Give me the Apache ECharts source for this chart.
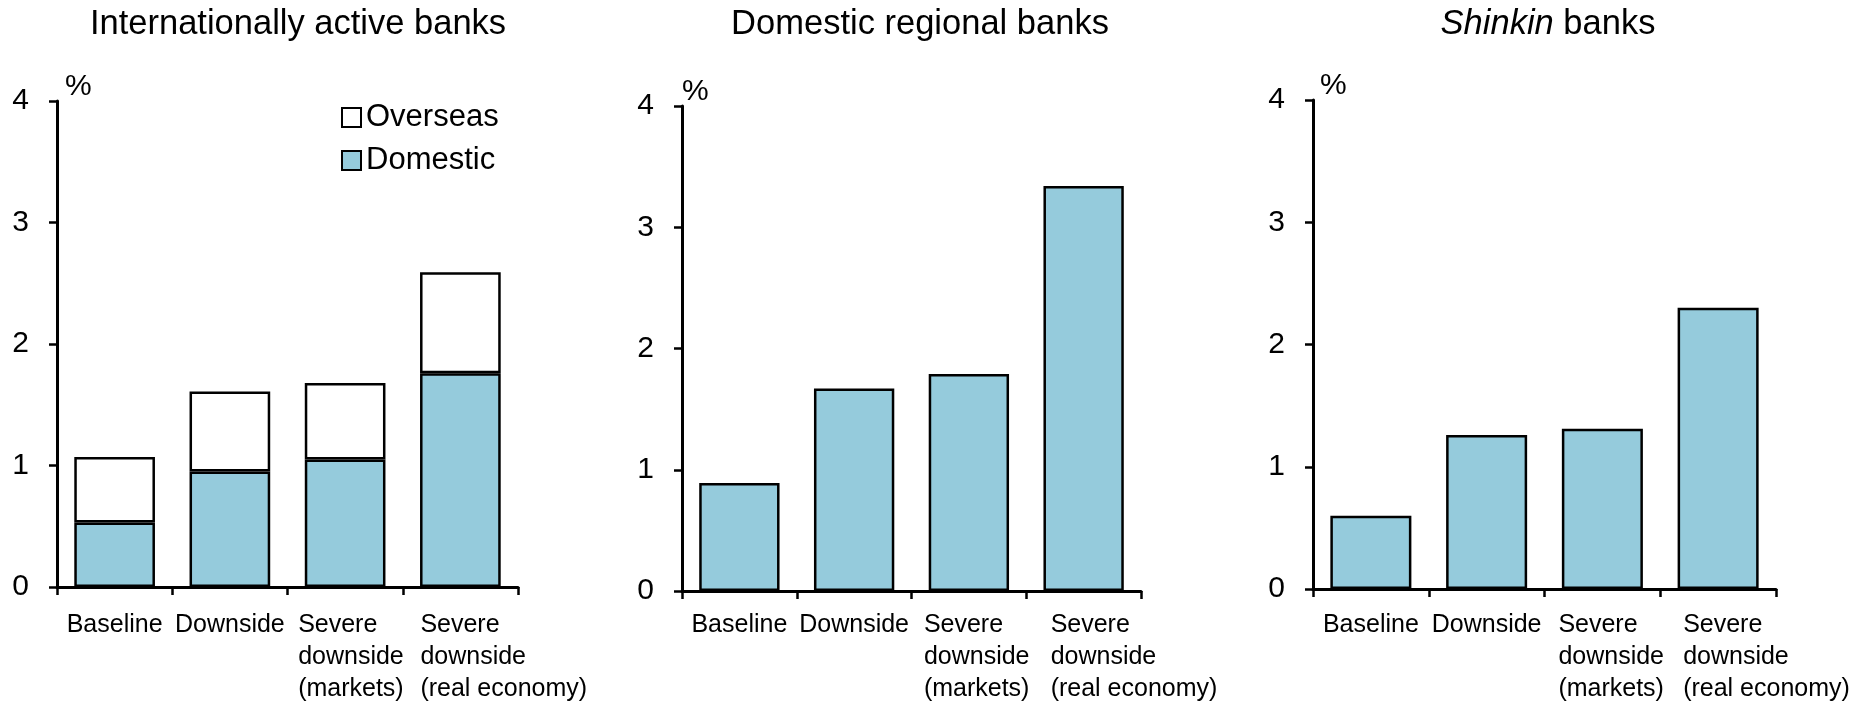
<!DOCTYPE html>
<html>
<head>
<meta charset="utf-8">
<script src="https://cdn.jsdelivr.net/npm/echarts@6/dist/echarts.min.js"></script>
<style>
html,body{margin:0;padding:0;background:#fff;}
#chart{width:1872px;height:704px;}
</style>
</head>
<body>
<div id="chart"></div>
<script>
// ---- data ----
const categories = ['Baseline', 'Downside', 'Severe\ndownside\n(markets)', 'Severe\ndownside\n(real economy)'];
const panelTitles = ['Internationally active banks', 'Domestic regional banks', '{i|Shinkin} banks'];
const intlDomestic = [0.53, 0.95, 1.05, 1.76];
const intlOverseas = [0.54, 0.66, 0.63, 0.83];
const regionalTotal = [0.89, 1.67, 1.79, 3.34];
const shinkinTotal = [0.60, 1.26, 1.31, 2.30];
const yMin = 0, yMax = 4, yStep = 1;
const yUnit = '%';

// ---- styles / layout ----
const FONT = '"Liberation Sans", Arial, sans-serif';
const BLUE = '#95cbdc';
const LABEL_FS = 25;
const LABEL_LH = 32;
const TITLE_FS = 34.5;
const grids = [
  {left: 57, top: 101, width: 461, height: 486},
  {left: 682, top: 106, width: 459, height: 485},
  {left: 1313, top: 100, width: 463, height: 489}
];
const labelMargin = [22, 18, 20];
const titleX = [298, 920, 1548];
const pctPad = [8, 0, 7];
// left offset of multi-line label block from category center (null = centered)
const labelShift = [
  [null, null, 47, 40],
  [null, null, 45, 33],
  [null, null, 44, 35]
];

const ctx = document.createElement('canvas').getContext('2d');
ctx.font = LABEL_FS + 'px ' + FONT;
function catData(shifts) {
  return categories.map((c, i) => {
    const d = shifts[i];
    if (d == null) return c;
    const T = Math.max(...c.split('\n').map(s => ctx.measureText(s).width));
    const diff = T - 2 * d;
    const pad = diff >= 0 ? [0, 0, 0, diff] : [0, -diff, 0, 0];
    return {value: c, textStyle: {padding: pad}};
  });
}

const xAxes = grids.map((g, k) => ({
  type: 'category', gridIndex: k, data: catData(labelShift[k]),
  boundaryGap: true,
  axisLine: {lineStyle: {color: '#000', width: 3}},
  axisTick: {show: true, length: 8, lineStyle: {color: '#000', width: 2.5}},
  axisLabel: {
    interval: 0, margin: labelMargin[k], color: '#000', fontFamily: FONT, fontSize: LABEL_FS,
    lineHeight: LABEL_LH, hideOverlap: false,
    formatter: v => v.split('\n').map(s => '{t|' + s + '}').join('\n'),
    rich: {t: {align: 'left', fontSize: LABEL_FS, fontFamily: FONT, lineHeight: LABEL_LH, color: '#000'}}
  },
  splitLine: {show: false}
}));

const yAxes = grids.map((g, k) => ({
  type: 'value', gridIndex: k, min: yMin, max: yMax, interval: yStep,
  name: yUnit, nameLocation: 'end', nameGap: -1,
  nameTextStyle: {fontSize: 30, fontFamily: FONT, color: '#000', align: 'left', verticalAlign: 'bottom', padding: [0, 0, 0, pctPad[k]]},
  axisLine: {show: true, lineStyle: {color: '#000', width: 3}},
  axisTick: {show: true, length: 8, lineStyle: {color: '#000', width: 2.5}},
  axisLabel: {margin: 28, color: '#000', fontFamily: FONT, fontSize: 30},
  splitLine: {show: false}
}));

const border = {borderColor: '#000', borderWidth: 2.5};
const series = [
  {name: 'Domestic', type: 'bar', stack: 'intl', xAxisIndex: 0, yAxisIndex: 0, barWidth: '70%',
   data: intlDomestic, itemStyle: Object.assign({color: BLUE}, border)},
  {name: 'Overseas', type: 'bar', stack: 'intl', xAxisIndex: 0, yAxisIndex: 0, barWidth: '70%',
   data: intlOverseas, itemStyle: Object.assign({color: '#fff'}, border)},
  {name: 'Domestic regional banks', type: 'bar', xAxisIndex: 1, yAxisIndex: 1, barWidth: '70%',
   data: regionalTotal, itemStyle: Object.assign({color: BLUE}, border)},
  {name: 'Shinkin banks', type: 'bar', xAxisIndex: 2, yAxisIndex: 2, barWidth: '70%',
   data: shinkinTotal, itemStyle: Object.assign({color: BLUE}, border)}
];

const graphics = panelTitles.map((t, k) => ({
  type: 'text', x: titleX[k], y: 24,
  style: {
    text: t, align: 'center', verticalAlign: 'middle',
    fontSize: TITLE_FS, fontFamily: FONT, fill: '#000',
    rich: {i: {fontStyle: 'italic', fontSize: TITLE_FS, fontFamily: FONT, fill: '#000'}}
  }
}));

const chart = echarts.init(document.getElementById('chart'), null, {renderer: 'canvas'});
chart.setOption({
  backgroundColor: '#fff',
  animation: false,
  grid: grids.map(g => Object.assign({containLabel: false, outerBoundsMode: 'none'}, g)),
  xAxis: xAxes,
  yAxis: yAxes,
  legend: {
    data: ['Overseas', 'Domestic'], orient: 'vertical', left: 341, top: 102,
    itemWidth: 19, itemHeight: 19, itemGap: 12, padding: 0, selectedMode: false,
    icon: 'rect',
    textStyle: {fontSize: 31, fontFamily: FONT, color: '#000'}
  },
  graphic: graphics,
  series: series
});
</script>
</body>
</html>
